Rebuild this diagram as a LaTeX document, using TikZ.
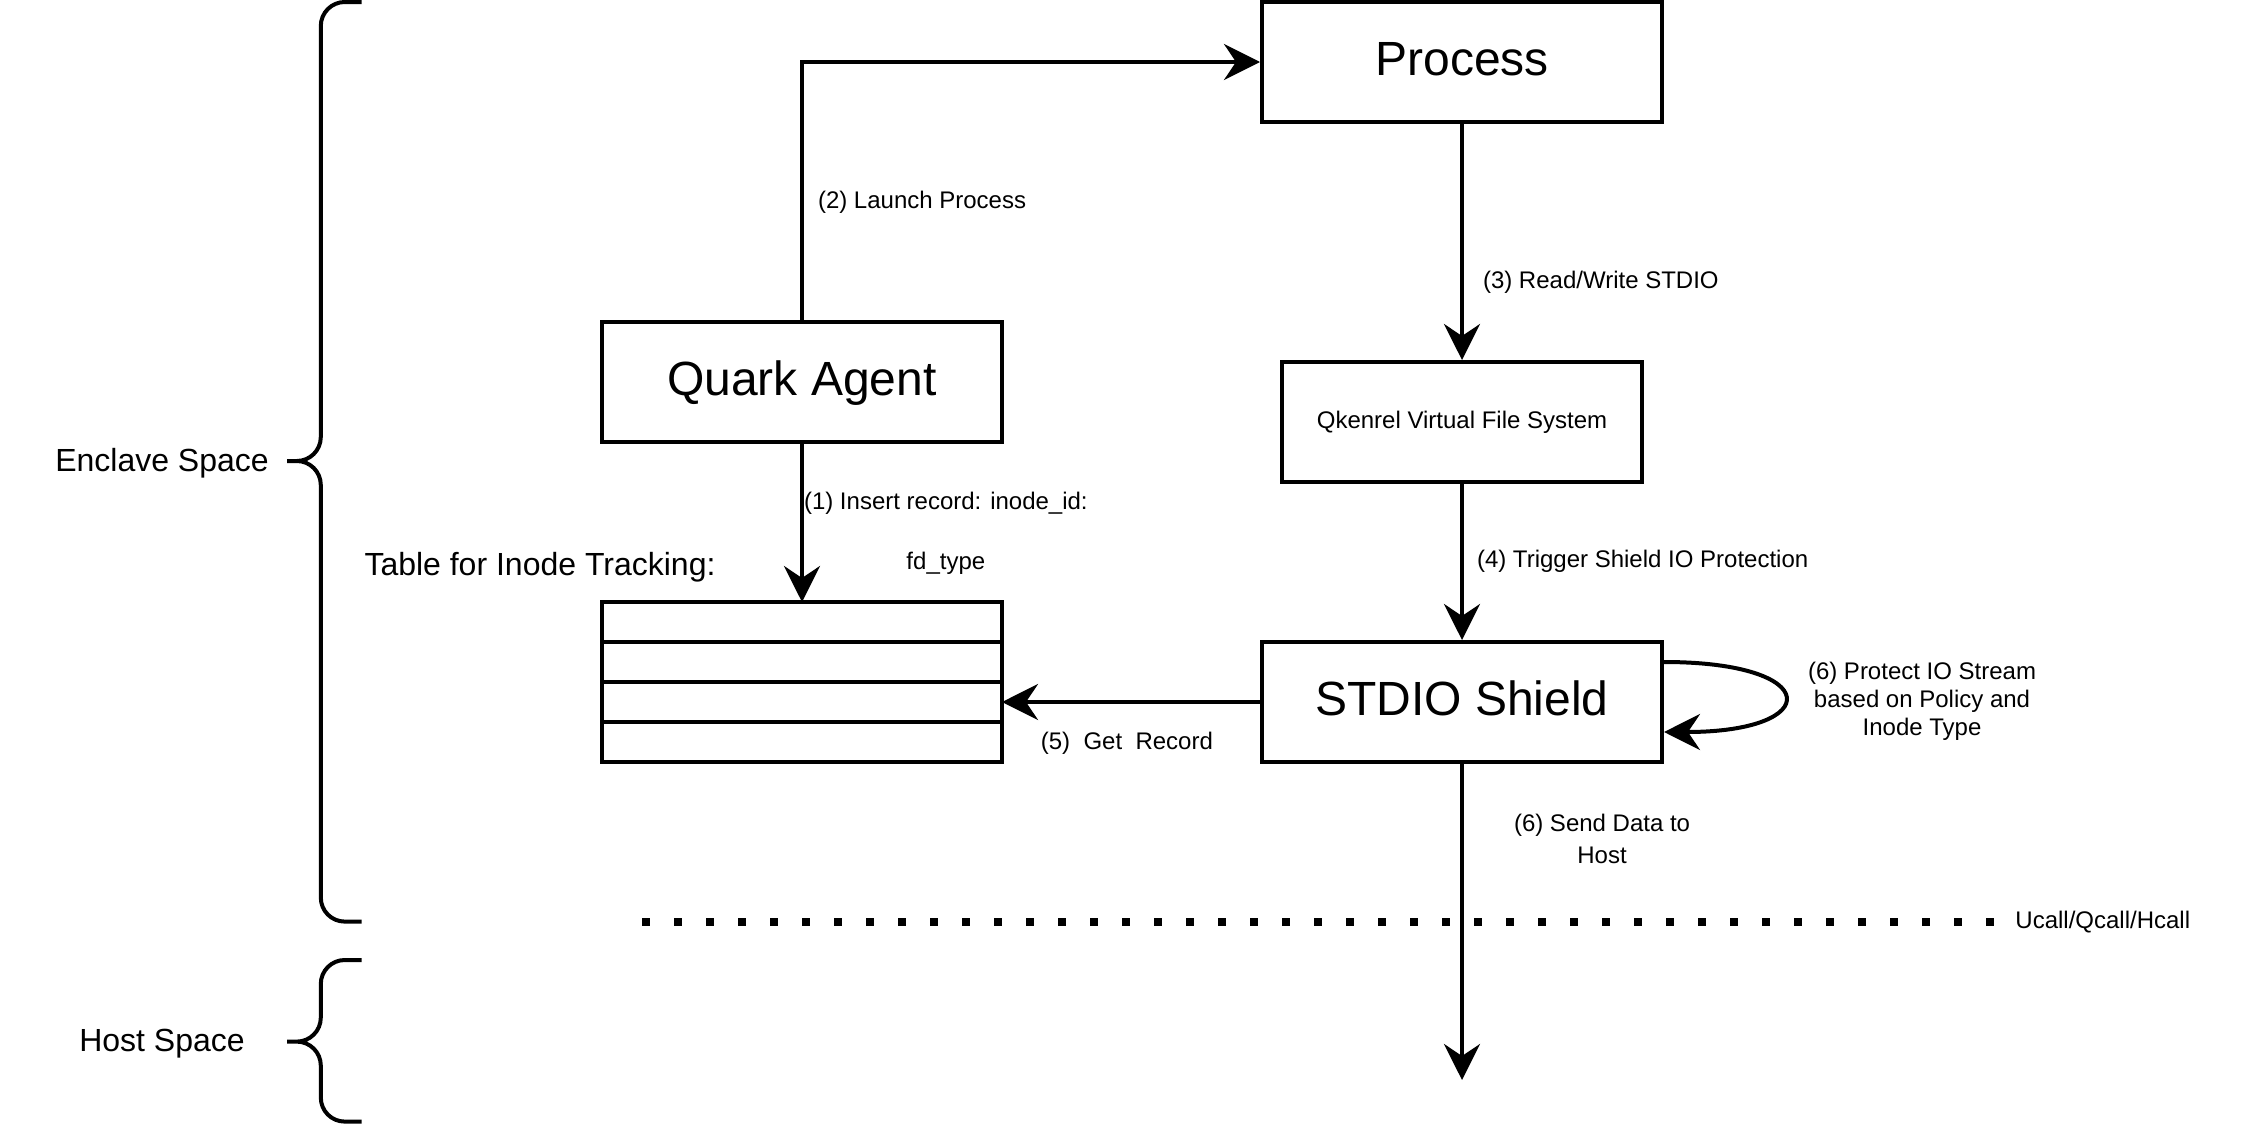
\documentclass[tikz,border=0pt]{standalone}
\usepackage{fontspec}
\setmainfont{Liberation Sans}
\usetikzlibrary{positioning, arrows.meta}

\tikzstyle{box} = [rectangle, minimum width=200pt, minimum height=60pt, text centered, draw=black, line width=2pt, font=\fontsize{24}{28}\selectfont, text height=18pt, text depth=4.8pt]
\tikzstyle{fsbox} = [rectangle, minimum width=180pt, minimum height=60pt, text centered, draw=black, line width=2pt, font=\fontsize{12}{14}\selectfont, text height=9pt, text depth=2.4pt]
\tikzstyle{rowbox} = [rectangle, minimum width=200pt, minimum height=20pt, inner sep=0pt, outer sep=0pt, draw=black, line width=2pt]
\tikzstyle{arrow} = [line width=2pt, ->, >={Stealth[length=18pt, width=18pt, inset=6pt]}]
\tikzstyle{lbl} = [inner sep=0pt, font=\fontsize{12}{14}\selectfont, text height=8.6pt, text depth=2.4pt]
\tikzstyle{mlbl} = [inner sep=0pt, align=center, font=\fontsize{12}{14}\selectfont]
\tikzstyle{side} = [inner sep=0pt, font=\fontsize{16}{19}\selectfont, text height=11.4pt, text depth=3.2pt]
\tikzstyle{brace} = [line width=2pt, rounded corners=12pt]
\tikzstyle{callline} = [line width=4pt, dash pattern=on 4pt off 12pt]

\begin{document}
\begin{tikzpicture}[x=1pt, y=-1pt]
\path[use as bounding box, fill=white] (0,0) rectangle (1122,562);

\node (process) [box] at (731,31) {Process};
\node (vfs) [fsbox, below=118pt of process] {Qkenrel Virtual File System};
\node (shield) [box, below=78pt of vfs] {STDIO Shield};
\node (quark) [box] at (401,191) {Quark Agent};
\node (row1) [rowbox, below=79pt of quark] {};
\node (row2) [rowbox, below=0pt of row1] {};
\node (row3) [rowbox, below=0pt of row2] {};
\node (row4) [rowbox, below=0pt of row3] {};
\node (tabtitle) [side] at (270,283.5) {Table for Inode Tracking:};

\node (enclave) [side] at (81,231.5) {Enclave Space};
\node (host) [side] at (81,521.5) {Host Space};

\coordinate (hostend) at (731,540);
\coordinate (dotl) at (321,461);
\coordinate (dotr) at (997,461);
\node (ucall) [lbl, right=10.5pt of dotr] {Ucall/Qcall/Hcall};

\draw [brace] (180.8,1) -- (160.4,1) -- (160.4,230.5) -- (143.5,230.5)
  (143.5,230.5) -- (160.4,230.5) -- (160.4,460.8) -- (180.8,460.8);
\draw [brace] (180.8,480) -- (160.4,480) -- (160.4,520.8) -- (143.5,520.8)
  (143.5,520.8) -- (160.4,520.8) -- (160.4,560.8) -- (180.8,560.8);

\draw [callline] (dotl) -- (dotr);

\draw [arrow] (quark.north) |- node[lbl, pos=0.233, right=7pt, yshift=-1.4pt] {(2) Launch Process} (process.west);
\draw [arrow] (process.south) -- node[lbl, pos=0.661, right=9.5pt, yshift=-1.4pt] {(3) Read/Write STDIO} (vfs.north);
\draw [arrow] (vfs.south) -- node[lbl, pos=0.487, right=6.5pt, yshift=-0.7pt] {(4) Trigger Shield IO Protection} (shield.north);
\draw [arrow] (quark.south) -- node[mlbl, pos=0.544, right=0pt, yshift=-1.5pt, font=\fontsize{12}{30}\selectfont] {(1) Insert record: inode\_id:\\fd\_type} (row1.north);
\draw [arrow] (shield.west) -- node[lbl, pos=0.516, below=14pt] {(5)\ \ Get\ \ Record} (row3.east);
\draw [arrow] ([yshift=20pt]shield.east) .. controls +(80,0) and +(80,0) .. node[mlbl, pos=0.5, right=11pt, yshift=-2pt] {(6) Protect IO Stream\\based on Policy and\\Inode Type} ([yshift=-15pt]shield.east);
\draw [arrow] (shield.south) -- node[mlbl, pos=0.234, right=25pt, yshift=-0.7pt, font=\fontsize{12}{16}\selectfont] {(6) Send Data to\\Host} (hostend);

\end{tikzpicture}
\end{document}
